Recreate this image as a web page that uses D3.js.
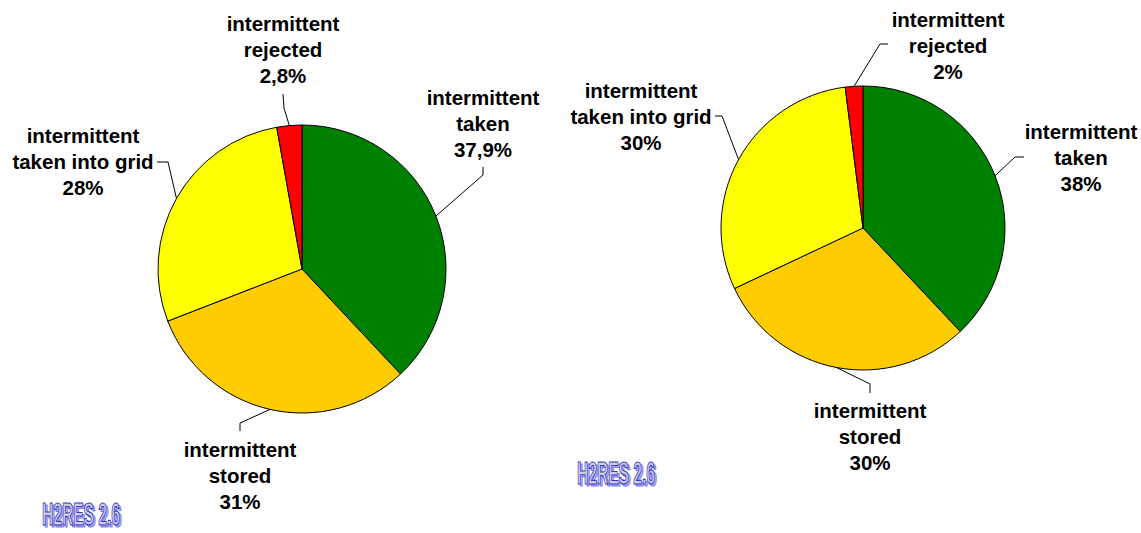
<!DOCTYPE html>
<html>
<head>
<meta charset="utf-8">
<script src="https://cdn.jsdelivr.net/npm/d3@7"></script>
<style>
  body { margin: 0; background: #fff; }
  svg text { font-family: "Liberation Sans", Arial, sans-serif; font-weight: bold; }
</style>
</head>
<body>
<div id="chart"></div>
<script>
// Data (order: clockwise from 12 o'clock)
const categories = ["taken", "stored", "grid", "rejected"];
const labelLines = [
  ["intermittent", "taken"],
  ["intermittent", "stored"],
  ["intermittent", "taken into grid"],
  ["intermittent", "rejected"]
];
const leftValues = [37.9, 31, 28, 2.8];
const leftPct = ["37,9%", "31%", "28%", "2,8%"];
const rightValues = [38, 30, 30, 2];
const rightPct = ["38%", "30%", "30%", "2%"];

const colors = d3.scaleOrdinal()
  .domain(categories)
  .range(["#008000", "#FFCC00", "#FFFF00", "#FF0000"]);

const width = 1141, height = 533;

const svg = d3.select("#chart")
  .append("svg")
    .attr("width", width)
    .attr("height", height);

// label layout per chart: text centre x, first line y, elbow point
const leftLayout = {
  cx: 302, cy: 269, r: 144,
  labels: [
    {x: 483, y: 105, elbow: [483, 175], top: [483, 167]},
    {x: 240, y: 457, elbow: [240, 423], top: [240, 431]},
    {x: 83,  y: 143, elbow: [168, 162], top: [157, 162]},
    {x: 283, y: 31,  elbow: [284, 108], top: [283, 94]}
  ]
};
const rightLayout = {
  cx: 863, cy: 228, r: 142,
  labels: [
    {x: 1081, y: 139, elbow: [1015, 157], top: [1024, 157]},
    {x: 870,  y: 418, elbow: [870, 384], top: [870, 393]},
    {x: 641,  y: 98,  elbow: [722, 116], top: [715, 116]},
    {x: 948,  y: 27,  elbow: [880, 44],  top: [888, 44]}
  ]
};

function drawPie(values, pct, layout) {
  const pie = d3.pie().sort(null).value(d => d)(values);
  const arc = d3.arc().innerRadius(0).outerRadius(layout.r);

  const g = svg.append("g")
    .attr("transform", `translate(${layout.cx},${layout.cy})`);

  g.selectAll("path")
    .data(pie)
    .join("path")
      .attr("d", arc)
      .attr("fill", (d, i) => colors(categories[i]))
      .attr("stroke", "#000")
      .attr("stroke-width", 1);

  // leader lines: from the arc edge at mid angle to the label
  pie.forEach((d, i) => {
    const a = (d.startAngle + d.endAngle) / 2;
    const px = layout.cx + layout.r * Math.sin(a);
    const py = layout.cy - layout.r * Math.cos(a);
    const L = layout.labels[i];
    svg.append("polyline")
      .attr("points", [[px, py], L.elbow, L.top].map(p => p.join(",")).join(" "))
      .attr("fill", "none")
      .attr("stroke", "#000")
      .attr("stroke-width", 1);

    const t = svg.append("text")
      .attr("x", L.x)
      .attr("y", L.y)
      .attr("text-anchor", "middle")
      .attr("font-size", 20.5)
      .attr("fill", "#000");
    labelLines[i].concat([pct[i]]).forEach((s, k) => {
      t.append("tspan")
        .attr("x", L.x)
        .attr("y", L.y + k * 25.8)
        .text(s);
    });
  });
}

drawPie(leftValues, leftPct, leftLayout);
drawPie(rightValues, rightPct, rightLayout);

// H2RES watermarks
function watermark(x, y) {
  const w = svg.append("g");
  w.append("text")
    .attr("x", x + 2).attr("y", y + 1.5)
    .attr("font-size", 31)
    .attr("textLength", 78).attr("lengthAdjust", "spacingAndGlyphs")
    .attr("fill", "#a8a8f0").attr("stroke", "#8080e8").attr("stroke-width", 1.2)
    .text("H2RES 2.6");
  w.append("text")
    .attr("x", x).attr("y", y)
    .attr("font-size", 31)
    .attr("textLength", 78).attr("lengthAdjust", "spacingAndGlyphs")
    .attr("fill", "#cfcfe0").attr("stroke", "#3a3ac8").attr("stroke-width", 1.2)
    .text("H2RES 2.6");
}
watermark(42, 525);
watermark(577, 484);
</script>
</body>
</html>
